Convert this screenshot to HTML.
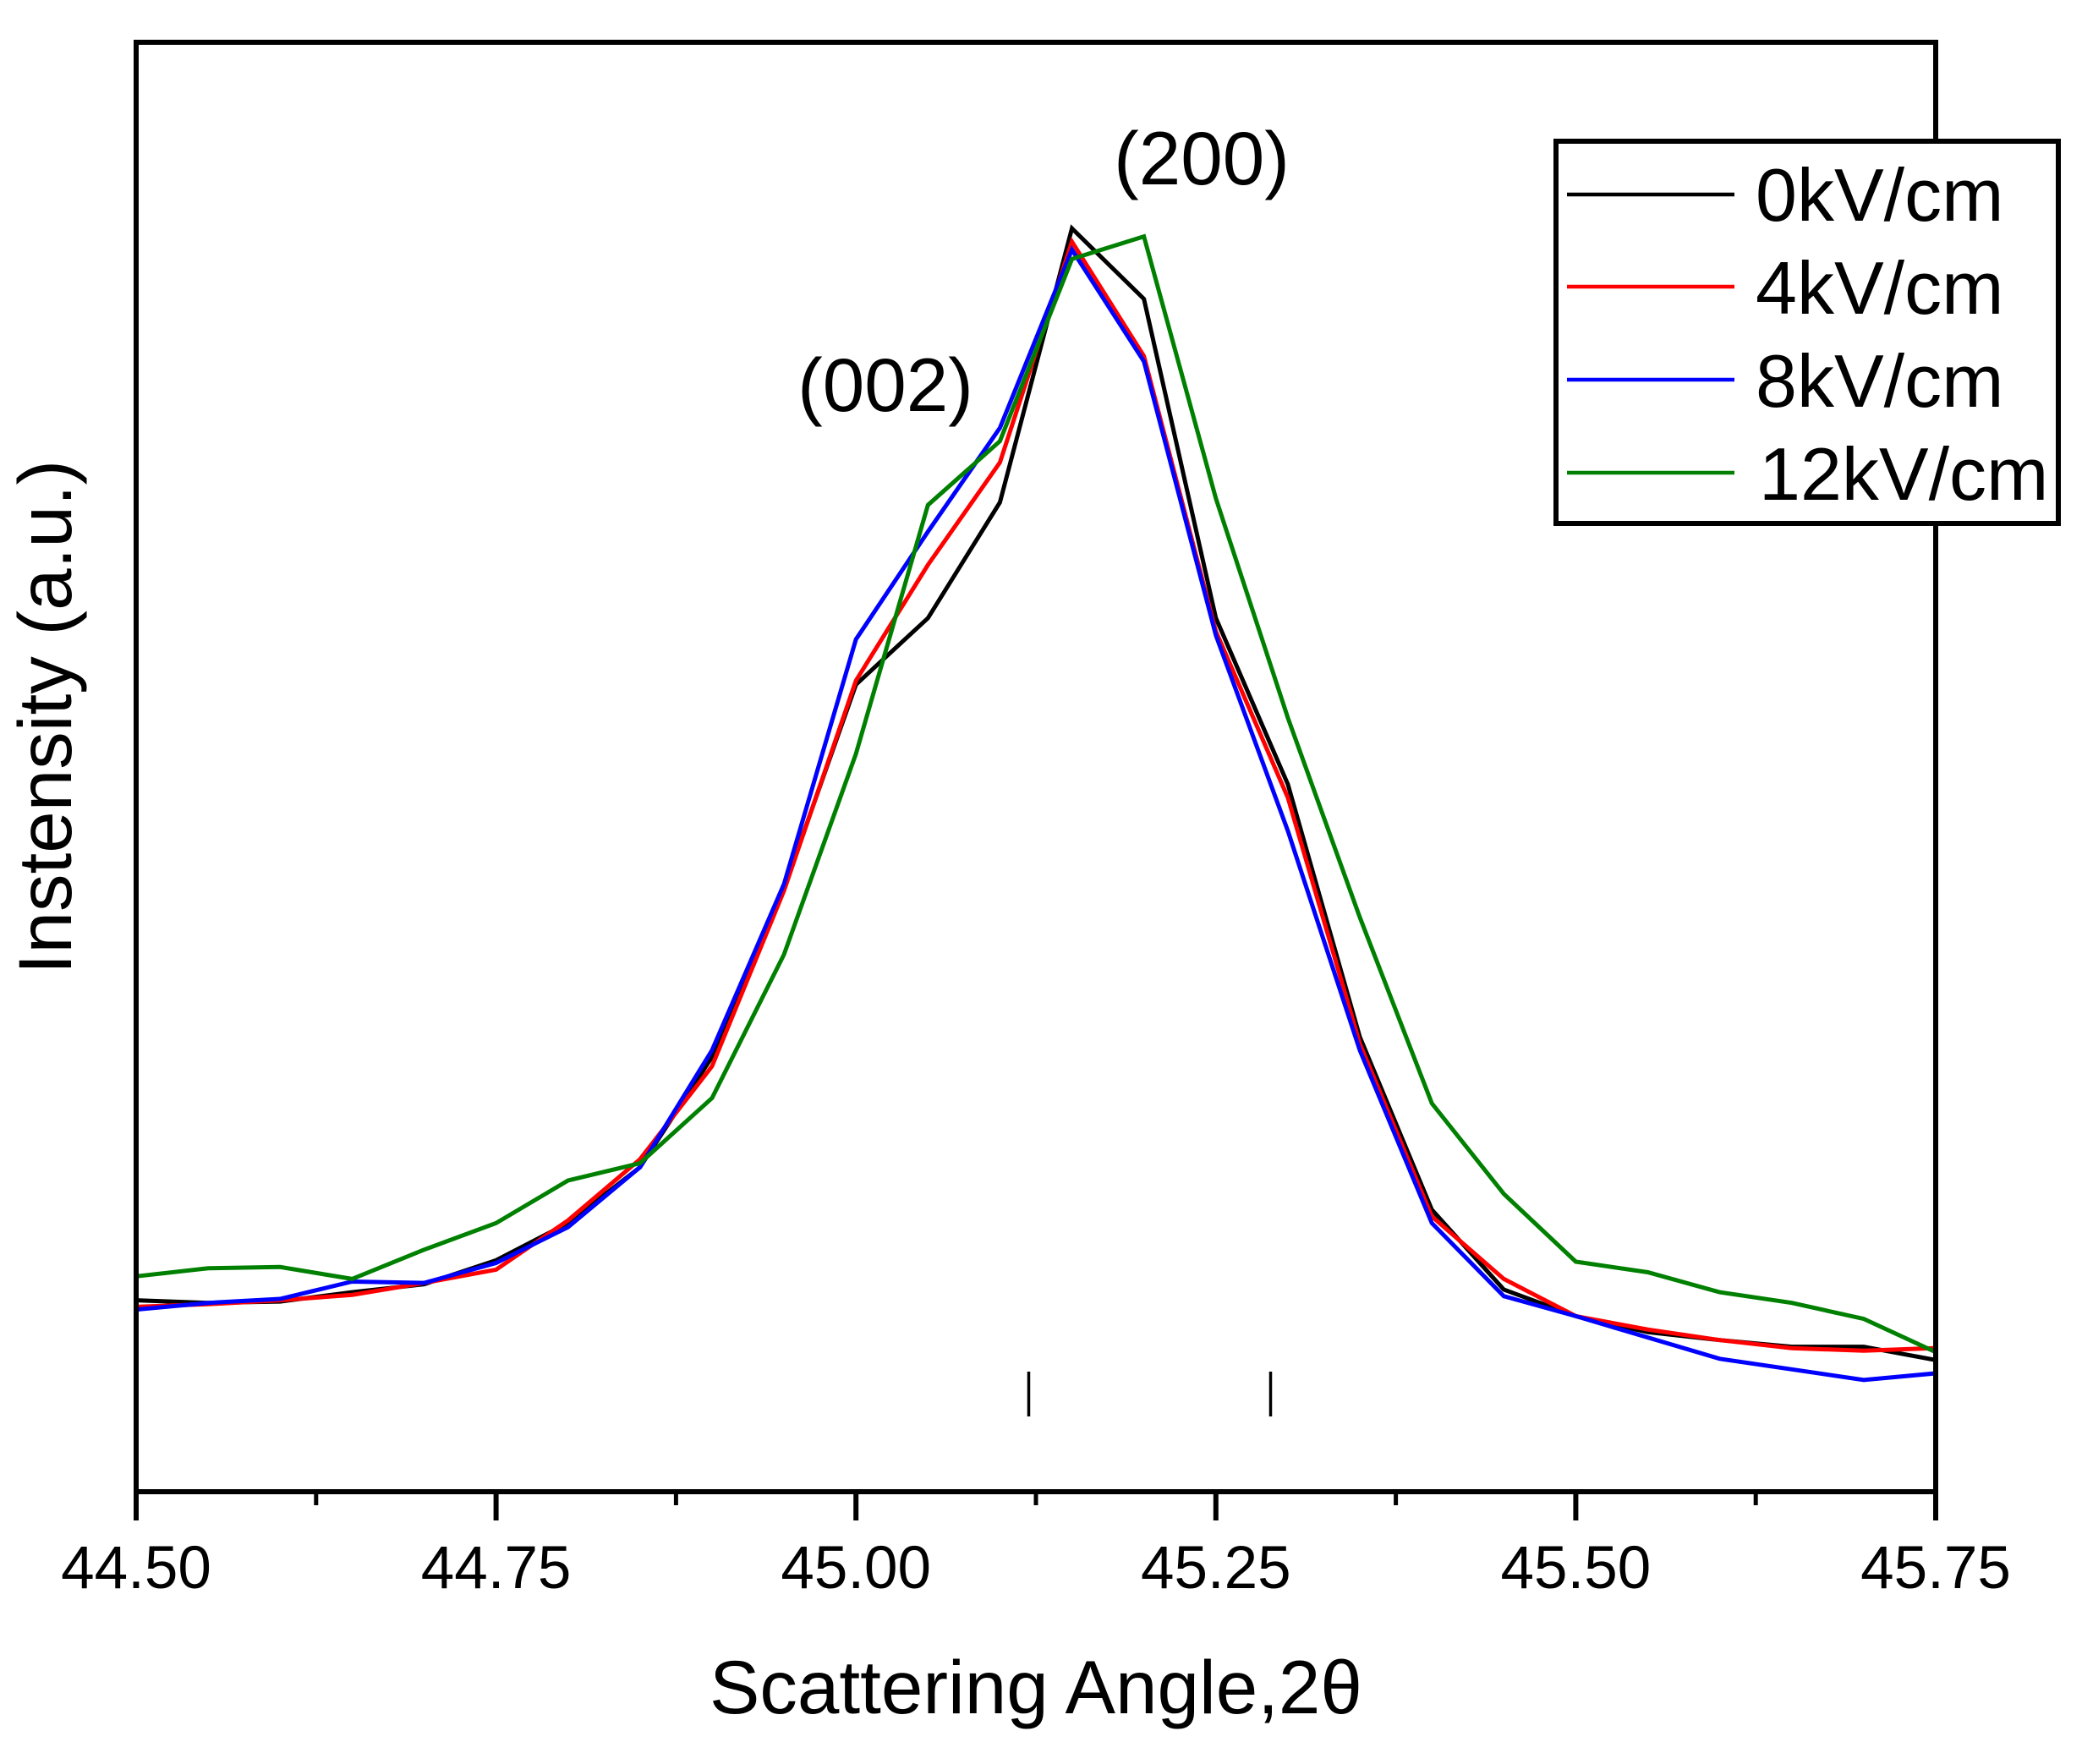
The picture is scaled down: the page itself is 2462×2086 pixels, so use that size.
<!DOCTYPE html>
<html><head><meta charset="utf-8"><style>
html,body{margin:0;padding:0;background:#fff;}
svg{display:block;font-family:"Liberation Sans",sans-serif;}
</style></head><body>
<svg id="chart" width="2462" height="2086" viewBox="0 0 2462 2086" xmlns="http://www.w3.org/2000/svg">
<g id="series"></g>
<g id="axes"></g>
</svg>
<script>
const xValues = [44.50,44.55,44.60,44.65,44.70,44.75,44.80,44.85,44.90,44.95,45.00,45.05,45.10,45.15,45.20,45.25,45.30,45.35,45.40,45.45,45.50,45.55,45.60,45.65,45.70,45.75];
const s0 = [144,142,143,150,156,174,202,244,327,454,607,657,744,950,897,657,532,342,212,152,132,120,114,109,109,99];
const s4 = [139,141,144,148,157,167,204,250,320,452,610,697,774,940,854,647,522,337,207,160,132,122,114,108,106,108];
const s8 = [137,142,145,158,157,172,199,244,332,457,641,722,800,934,850,644,497,332,202,147,132,116,100,92,84,89];
const s12 = [162,168,169,160,182,202,234,247,296,404,555,742,790,927,944,747,582,432,292,224,173,165,150,142,130,105];
const seriesNames = ["0kV/cm","4kV/cm","8kV/cm","12kV/cm"];
const seriesColors = ["#000000","#ff0000","#0000ff","#008000"];
const xTicks = [44.50,44.75,45.00,45.25,45.50,45.75];
const xTickLabels = ["44.50","44.75","45.00","45.25","45.50","45.75"];
const xMinorTicks = [44.625,44.875,45.125,45.375,45.625];
const markerX = [45.12,45.288];

const L=161,R=2289,T=50,B=1764;
const xMin=44.5,xMax=45.75,yMin=0,yMax=1090;
function sx(v){return L+(v-xMin)/(xMax-xMin)*(R-L);}
function sy(v){return B-(v-yMin)/(yMax-yMin)*(B-T);}
const NS="http://www.w3.org/2000/svg";
function mk(tag,attrs,parent){const e=document.createElementNS(NS,tag);for(const k in attrs)e.setAttribute(k,attrs[k]);parent.appendChild(e);return e;}
const sg=document.getElementById('series'), ag=document.getElementById('axes');
const all=[s0,s4,s8,s12];
all.forEach((s,i)=>{
  const p=mk('polyline',{points:s.map((v,j)=>sx(xValues[j]).toFixed(1)+','+sy(v).toFixed(1)).join(' '),fill:'none',stroke:seriesColors[i],'stroke-width':5,'stroke-linejoin':'miter'},sg);
  
  
});
markerX.forEach((m,i)=>{
  const l=mk('line',{x1:sx(m),x2:sx(m),y1:1622,y2:1675,stroke:'#000','stroke-width':3.5},ag);
  
  
});
const fr=mk('rect',{x:L,y:T,width:R-L,height:B-T,fill:'none',stroke:'#000','stroke-width':6},ag);


xTicks.forEach((t,i)=>{
  const l=mk('line',{x1:sx(t),x2:sx(t),y1:B,y2:B+34,stroke:'#000','stroke-width':6},ag);
  
  
  const tx=mk('text',{x:sx(t),y:1878,'font-size':71,'text-anchor':'middle',fill:'#000'},ag);
  tx.textContent=xTickLabels[i];
  
  
});
xMinorTicks.forEach(t=>{
  const l=mk('line',{x1:sx(t),x2:sx(t),y1:B,y2:B+16,stroke:'#000','stroke-width':5},ag);
  
  
});
</script>
<svg style="position:absolute;left:0;top:0" width="2462" height="2086" xmlns="http://www.w3.org/2000/svg" font-family="Liberation Sans, sans-serif">
<text x="1225" y="2026" font-size="89" text-anchor="middle">Scattering Angle,2θ</text>
<text transform="translate(84,848) rotate(-90)" font-size="89" text-anchor="middle">Instensity (a.u.)</text>
<text x="1421" y="218" font-size="89" text-anchor="middle">(200)</text>
<text x="1047" y="486" font-size="89" text-anchor="middle">(002)</text>
<g>
<rect x="1840" y="167" width="594" height="452" fill="#fff" stroke="#000" stroke-width="6"/>
<line x1="1853" x2="2051" y1="230" y2="230" stroke="#000" stroke-width="4.5"/>
<line x1="1853" x2="2051" y1="339" y2="339" stroke="#ff0000" stroke-width="4.5"/>
<line x1="1853" x2="2051" y1="449" y2="449" stroke="#0000ff" stroke-width="4.5"/>
<line x1="1853" x2="2051" y1="559" y2="559" stroke="#008000" stroke-width="4.5"/>
<text x="2076" y="261" font-size="88">0kV/cm</text>
<text x="2076" y="371" font-size="88">4kV/cm</text>
<text x="2076" y="481" font-size="88">8kV/cm</text>
<text x="2080" y="591" font-size="88">12kV/cm</text>
</g>
</svg>
</body></html>
